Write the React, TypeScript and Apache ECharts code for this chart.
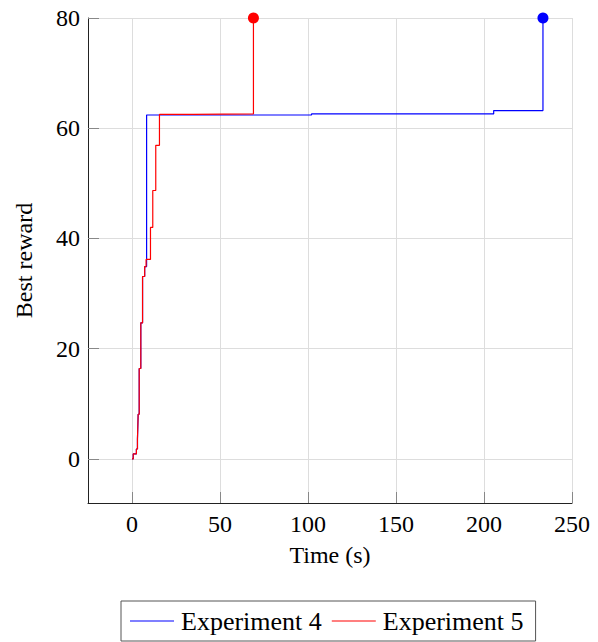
import React, { useEffect, useRef } from "react";
import * as echarts from "echarts";

const exp4X = [0, 0.7, 2.5, 3.1, 3.5, 4.1, 5.0, 6.0, 7.2, 8.3, 102, 205.5, 233.5];
const exp4Y = [0, 0.9, 1.8, 3.6, 8.1, 16.4, 24.7, 33.1, 34.9, 62.4, 62.6, 63.2, 80];
const exp5X = [0, 0.7, 2.5, 3.1, 3.5, 4.1, 5.0, 6.0, 7.2, 8.0, 10.5, 11.8, 13.5, 15.6, 35, 69];
const exp5Y = [0, 0.9, 1.8, 3.6, 8.1, 16.4, 24.7, 33.1, 34.9, 36.2, 42.0, 48.7, 56.9, 62.5, 62.6, 80];
const seriesNames = ["Experiment 4", "Experiment 5"];
const xTicks = [0, 50, 100, 150, 200, 250];
const yTicks = [0, 20, 40, 60, 80];

const FONT = "Liberation Serif";

export default function App() {
  const ref = useRef<HTMLDivElement>(null);
  useEffect(() => {
    if (!ref.current) return;
    const chart = echarts.init(ref.current, undefined, { renderer: "svg" });
    const pts = (xs: number[], ys: number[]) => xs.map((x, i) => [x, ys[i]]);
    const lastPt = (xs: number[], ys: number[]) => [[xs[xs.length - 1], ys[ys.length - 1]]];
    chart.setOption({
      animation: false,
      backgroundColor: "#ffffff",
      textStyle: { fontFamily: FONT, color: "#000000" },
      grid: { left: 88, right: 26, top: 18, bottom: 139, containLabel: false },
      legend: {
        data: seriesNames,
        left: 121,
        top: 601,
        orient: "horizontal",
        icon: "rect",
        itemWidth: 44,
        itemHeight: 1,
        itemGap: 10,
        padding: [7, 12, 7, 9],
        borderColor: "#555555",
        borderWidth: 1,
        borderRadius: 0,
        textStyle: { fontFamily: FONT, fontSize: 26, color: "#000000", padding: [0, 0, 0, 2] },
      },
      xAxis: {
        type: "value",
        min: -25,
        max: 250,
        minInterval: 50,
        maxInterval: 50,
        name: "Time (s)",
        nameLocation: "middle",
        nameGap: 40,
        nameTextStyle: { fontFamily: FONT, fontSize: 24, color: "#000000" },
        axisLine: { show: true, onZero: false, lineStyle: { color: "#222222", width: 1 } },
        axisTick: { show: true, inside: true, length: 11, customValues: xTicks, lineStyle: { color: "#888888" } },
        splitLine: { show: true, lineStyle: { color: "#dddddd", width: 1 } },
        axisLabel: {
          fontFamily: FONT,
          fontSize: 24,
          color: "#000000",
          margin: 9,
          formatter: (v: number) => (xTicks.includes(v) ? String(v) : ""),
        },
      },
      yAxis: {
        type: "value",
        min: -8,
        max: 80,
        minInterval: 20,
        maxInterval: 20,
        name: "Best reward",
        nameLocation: "middle",
        nameGap: 52,
        nameRotate: 90,
        nameTextStyle: { fontFamily: FONT, fontSize: 24, color: "#000000" },
        axisLine: { show: true, onZero: false, lineStyle: { color: "#222222", width: 1 } },
        axisTick: { show: true, inside: true, length: 11, customValues: yTicks, lineStyle: { color: "#888888" } },
        splitLine: { show: true, lineStyle: { color: "#dddddd", width: 1 } },
        axisLabel: {
          fontFamily: FONT,
          fontSize: 24,
          color: "#000000",
          margin: 8,
          formatter: (v: number) => (yTicks.includes(v) ? String(v) : ""),
        },
      },
      series: [
        {
          name: seriesNames[0],
          type: "line",
          step: "end",
          showSymbol: false,
          data: pts(exp4X, exp4Y),
          lineStyle: { color: "#0000ff", width: 1.2 },
          itemStyle: { color: "#0000ff" },
        },
        {
          name: seriesNames[1],
          type: "line",
          step: "end",
          showSymbol: false,
          data: pts(exp5X, exp5Y),
          lineStyle: { color: "#ff0000", width: 1.2 },
          itemStyle: { color: "#ff0000" },
        },
        {
          name: "end4",
          type: "scatter",
          symbol: "circle",
          symbolSize: 11,
          data: lastPt(exp4X, exp4Y),
          itemStyle: { color: "#0000ff", opacity: 1 },
          z: 5,
        },
        {
          name: "end5",
          type: "scatter",
          symbol: "circle",
          symbolSize: 11,
          data: lastPt(exp5X, exp5Y),
          itemStyle: { color: "#ff0000", opacity: 1 },
          z: 5,
        },
      ],
    });
    return () => chart.dispose();
  }, []);
  return (
    <div
      ref={ref}
      style={{ position: "fixed", left: 0, top: 0, width: 598, height: 642 }}
    />
  );
}
